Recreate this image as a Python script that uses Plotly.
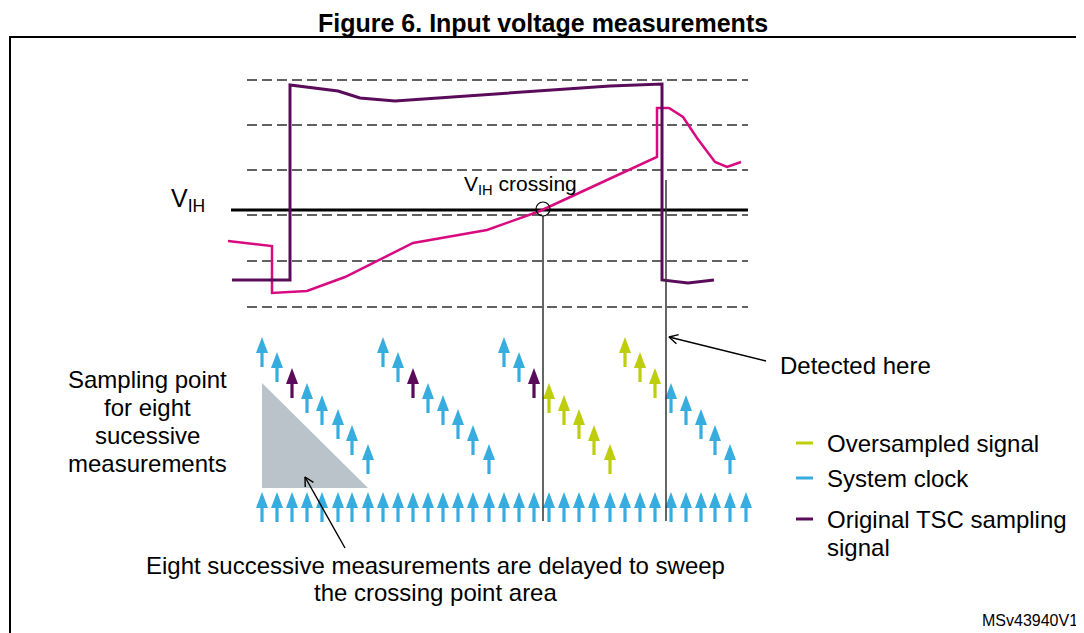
import math
import plotly.graph_objects as go

# ---------------- data (pixel-like units) ----------------
# Original TSC sampling signal (dark purple)
tsc_x = [232, 290, 290, 338, 360, 395, 610, 662, 662, 688, 714]
tsc_y = [280, 280, 85, 91, 98, 101, 86, 84, 280, 283, 280]

# Input voltage (magenta)
vin_x = [228, 272, 272, 307, 345, 413, 487, 540, 607, 657, 657, 669, 683, 697, 715, 727, 741]
vin_y = [241, 246, 293, 291, 277, 243, 230, 211, 180, 157, 108, 108, 117, 138, 162, 167, 162]

# Threshold levels
dashed_levels = [80, 125, 170, 215, 261, 307]
vih_level = 210
level_x_start, level_x_end = 247, 748
vih_x_start = 231

# System clock ticks (x of each tick)
clock_x = [262, 277, 292, 307, 322, 338, 352, 368, 383, 398, 413, 428, 443, 458, 473,
           489, 504, 519, 534, 549, 564, 579, 594, 610, 625, 640, 655, 671, 686, 701,
           715, 730, 746]
clock_top = 492

# Eight successive sampling points per measurement (top of each arrow)
sample_top = [337, 352, 368, 383, 395, 409, 425, 444]
# kind of each of the 32 delayed sampling arrows: B=system clock, P=original, L=oversampled
sample_kind = ["B", "B", "P", "B", "B", "B", "B", "B",
               "B", "B", "P", "B", "B", "B", "B", "B",
               "B", "B", "P", "L", "L", "L", "L", "L",
               "L", "L", "L", "B", "B", "B", "B", "B"]

crossing_x, crossing_y = 543, 209
detect_x = 666

legend_labels = ["Oversampled signal", "System clock", "Original TSC sampling"]
legend_y = [443, 478, 519]

# pointer arrows: (tail x, tail y, tip x, tip y)
pointers = [(766, 361, 669, 337), (345, 548, 305, 477)]

# ---------------- styles ----------------
BLUE = "#36ADDE"
PURPLE = "#5A0C5B"
LIME = "#BECE0C"
PINK = "#D80A80"
GRAY_TRI = "#BAC3CA"
FONT = "Liberation Sans, Arial, sans-serif"
kind_color = {"B": BLUE, "P": PURPLE, "L": LIME}

ARROW_LEN, HEAD_H, HEAD_HW, SHAFT_HW = 30, 16, 6, 1.6
PAGE_MARGIN = 8  # browser body margin


def arrow_poly(xs, tops):
    px, py = [], []
    for cx, ty in zip(xs, tops):
        px += [cx, cx + HEAD_HW, cx + SHAFT_HW, cx + SHAFT_HW, cx - SHAFT_HW, cx - SHAFT_HW, cx - HEAD_HW, cx, None]
        py += [ty, ty + HEAD_H, ty + HEAD_H, ty + ARROW_LEN, ty + ARROW_LEN, ty + HEAD_H, ty + HEAD_H, ty, None]
    return px, py


fig = go.Figure()

# frame
fig.add_trace(go.Scatter(x=[10, 10, 1084], y=[640, 37, 37], mode="lines",
                         line=dict(color="black", width=2), hoverinfo="skip"))

# dashed levels
for lv in dashed_levels:
    fig.add_trace(go.Scatter(x=[level_x_start, level_x_end], y=[lv, lv], mode="lines",
                             line=dict(color="#2e2e2e", width=1.4, dash="10px,5px"), hoverinfo="skip"))
# VIH level
fig.add_trace(go.Scatter(x=[vih_x_start, level_x_end], y=[vih_level, vih_level], mode="lines",
                         line=dict(color="black", width=3), hoverinfo="skip"))

# signals
fig.add_trace(go.Scatter(x=vin_x, y=vin_y, mode="lines", line=dict(color=PINK, width=2.5), hoverinfo="skip"))
fig.add_trace(go.Scatter(x=tsc_x, y=tsc_y, mode="lines", line=dict(color=PURPLE, width=3), hoverinfo="skip"))

# gray triangle (sampling span)
tri_x = [clock_x[0], clock_x[0], clock_x[7], clock_x[0]]
tri_y = [sample_top[3], 488, 488, sample_top[3]]
fig.add_trace(go.Scatter(x=tri_x, y=tri_y, mode="lines", fill="toself", fillcolor=GRAY_TRI,
                         line=dict(width=0, color=GRAY_TRI), hoverinfo="skip"))

# delayed sampling arrows
for kind in ["B", "P", "L"]:
    xs, ts = [], []
    for i, k in enumerate(sample_kind):
        if k == kind:
            xs.append(clock_x[i])
            ts.append(sample_top[i % 8])
    px, py = arrow_poly(xs, ts)
    fig.add_trace(go.Scatter(x=px, y=py, mode="lines", fill="toself", fillcolor=kind_color[kind],
                             line=dict(width=0, color=kind_color[kind]), hoverinfo="skip"))

# system clock row
px, py = arrow_poly(clock_x, [clock_top] * len(clock_x))
fig.add_trace(go.Scatter(x=px, y=py, mode="lines", fill="toself", fillcolor=BLUE,
                         line=dict(width=0, color=BLUE), hoverinfo="skip"))

# vertical markers
fig.add_trace(go.Scatter(x=[crossing_x, crossing_x], y=[216, 521], mode="lines",
                         line=dict(color="#111111", width=1.3), hoverinfo="skip"))
fig.add_trace(go.Scatter(x=[detect_x, detect_x], y=[180, 521], mode="lines",
                         line=dict(color="#333333", width=1.5), hoverinfo="skip"))

# crossing circle
fig.add_shape(type="circle", xref="x", yref="y", x0=crossing_x - 7, x1=crossing_x + 7,
              y0=crossing_y - 7, y1=crossing_y + 7, line=dict(color="black", width=1.2))

# legend lines
for c, ly in zip([LIME, BLUE, PURPLE], legend_y):
    fig.add_trace(go.Scatter(x=[796, 813], y=[ly, ly], mode="lines", line=dict(color=c, width=3),
                             hoverinfo="skip"))

# pointer arrows (line + open head)
for tx, ty, hx, hy in pointers:
    ang = math.atan2(ty - hy, tx - hx)
    L, a = 10, math.radians(28)
    h1 = (hx + L * math.cos(ang + a), hy + L * math.sin(ang + a))
    h2 = (hx + L * math.cos(ang - a), hy + L * math.sin(ang - a))
    fig.add_trace(go.Scatter(x=[tx, hx, None, h1[0], hx, h2[0]], y=[ty, hy, None, h1[1], hy, h2[1]],
                             mode="lines", line=dict(color="black", width=1.4), hoverinfo="skip"))

ann = []


def txt(x, y, s, size=24, xanchor="left", bold=False, color="black"):
    ann.append(dict(x=x, y=y, xref="x", yref="y", text=("<b>%s</b>" % s) if bold else s,
                    showarrow=False, xanchor=xanchor, yanchor="middle",
                    font=dict(family=FONT, size=size, color=color)))


txt(543, 22.5, "Figure 6. Input voltage measurements", size=25, xanchor="center", bold=True)
txt(169, 200, "V<sub>IH</sub>", size=25)
txt(462, 185, "V<sub>IH</sub> crossing", size=21)
txt(778, 365, "Detected here", size=24)
for s, yy in zip(["Sampling point", "for eight", "sucessive", "measurements"], [379, 407, 435, 463]):
    txt(147, yy, s, size=24, xanchor="center")
txt(435, 565, "Eight successive measurements are delayed to sweep", size=24, xanchor="center")
txt(435, 592, "the crossing point area", size=24, xanchor="center")
for s, yy in zip(legend_labels, legend_y):
    txt(825, yy, s, size=24)
txt(825, 547, "signal", size=24)
txt(1080, 620, "MSv43940V1", size=16, xanchor="right")

fig.update_layout(
    width=1084 - PAGE_MARGIN, height=633 - PAGE_MARGIN, margin=dict(l=0, r=0, t=0, b=0),
    paper_bgcolor="white", plot_bgcolor="white", showlegend=False,
    xaxis=dict(range=[PAGE_MARGIN, 1084], visible=False, fixedrange=True),
    yaxis=dict(range=[633, PAGE_MARGIN], visible=False, fixedrange=True),
    annotations=ann,
)

fig.write_html("out.html")
